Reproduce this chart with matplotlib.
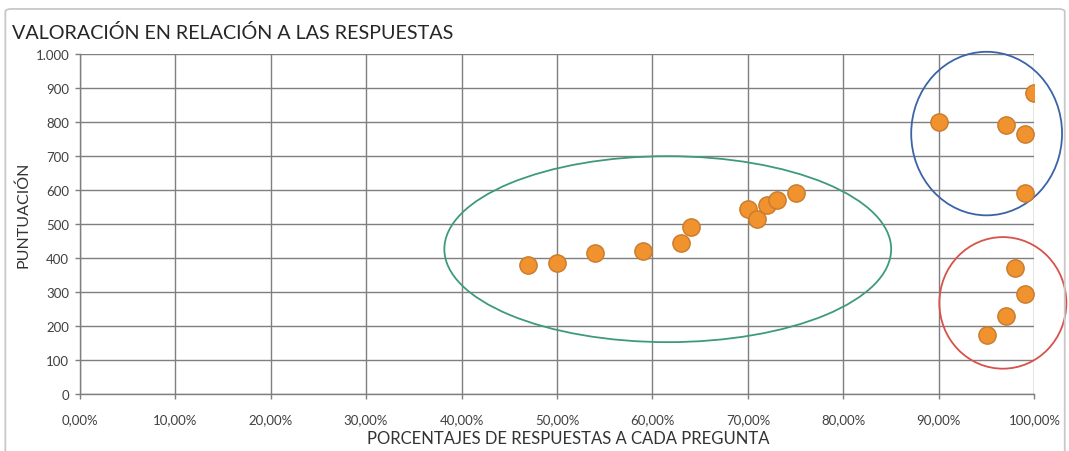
import matplotlib
matplotlib.use("Agg")
import matplotlib.pyplot as plt
from matplotlib.patches import Ellipse, FancyBboxPatch
from matplotlib.ticker import FuncFormatter, MultipleLocator

# porcentaje de respuestas (%) y puntuación de cada pregunta
pct_medio = [47, 50, 54, 59, 63, 64, 70, 71, 72, 73, 75]
pts_medio = [380, 385, 415, 420, 445, 490, 545, 515, 555, 570, 590]
pct_alto = [90, 100, 97, 99, 99]
pts_alto = [800, 885, 790, 765, 590]
pct_bajo = [98, 99, 97, 95]
pts_bajo = [370, 295, 230, 175]

# grupos marcados a mano: (centro x, centro y, ancho, alto, color)
grupos = [
    (61.6, 426, 46.8, 547, "#3f9a7c"),
    (95.0, 766, 15.8, 481, "#3a63a8"),
    (96.7, 268, 13.3, 387, "#d8514a"),
]

titulo = "VALORACIÓN EN RELACIÓN A LAS RESPUESTAS"
eje_x = "PORCENTAJES DE RESPUESTAS A CADA PREGUNTA"
eje_y = "PUNTUACIÓN"

plt.rcParams["font.family"] = ["Lato", "DejaVu Sans"]

fig = plt.figure(figsize=(10.69, 4.52), dpi=100)
ax = fig.add_axes([0.0745, 0.1261, 0.8931, 0.7522])

# marco exterior del gráfico
fig.patches.append(FancyBboxPatch((0.005, -0.02), 0.991, 0.998,
                                  boxstyle="round,pad=0,rounding_size=0.006",
                                  transform=fig.transFigure, facecolor="none",
                                  edgecolor="#c8c8c8", linewidth=1.3))

x = pct_medio + pct_alto + pct_bajo
y = pts_medio + pts_alto + pts_bajo
ax.scatter(x, y, s=155, color="#f0922e", edgecolor="#c97a2c", linewidth=1.0, zorder=5)

for cx, cy, w, h, c in grupos:
    ax.add_patch(Ellipse((cx, cy), w, h, facecolor="none", edgecolor=c,
                         linewidth=1.3, clip_on=False, zorder=4))

ax.set_xlim(0, 100)
ax.set_ylim(0, 1000)
ax.xaxis.set_major_locator(MultipleLocator(10))
ax.yaxis.set_major_locator(MultipleLocator(100))
ax.xaxis.set_major_formatter(FuncFormatter(lambda v, p: f"{v:.2f}%".replace(".", ",")))
ax.yaxis.set_major_formatter(FuncFormatter(lambda v, p: f"{int(v):,}".replace(",", ".")))

ax.grid(True, color="#7f7f7f", linewidth=1.0)
ax.set_axisbelow(True)
for s in ["top", "right"]:
    ax.spines[s].set_visible(False)
for s in ["left", "bottom"]:
    ax.spines[s].set_color("#7f7f7f")
    ax.spines[s].set_linewidth(1.0)
ax.tick_params(colors="#7f7f7f", length=3.5, width=1.0, labelsize=9.5,
               labelcolor="#404040")
ax.tick_params(axis="x", pad=10)
ax.tick_params(axis="y", pad=4)

ax.set_xlabel(eje_x, fontsize=12, color="#333333", va="center")
ax.xaxis.set_label_coords(0.5116, -0.128)
ax.set_ylabel(eje_y, fontsize=11.5, color="#333333", va="center")
ax.yaxis.set_label_coords(-0.0593, 0.53)
fig.text(0.011, 0.927, titulo, fontsize=14.2, color="#262626", va="center")

fig.savefig("out.png", dpi=100)
